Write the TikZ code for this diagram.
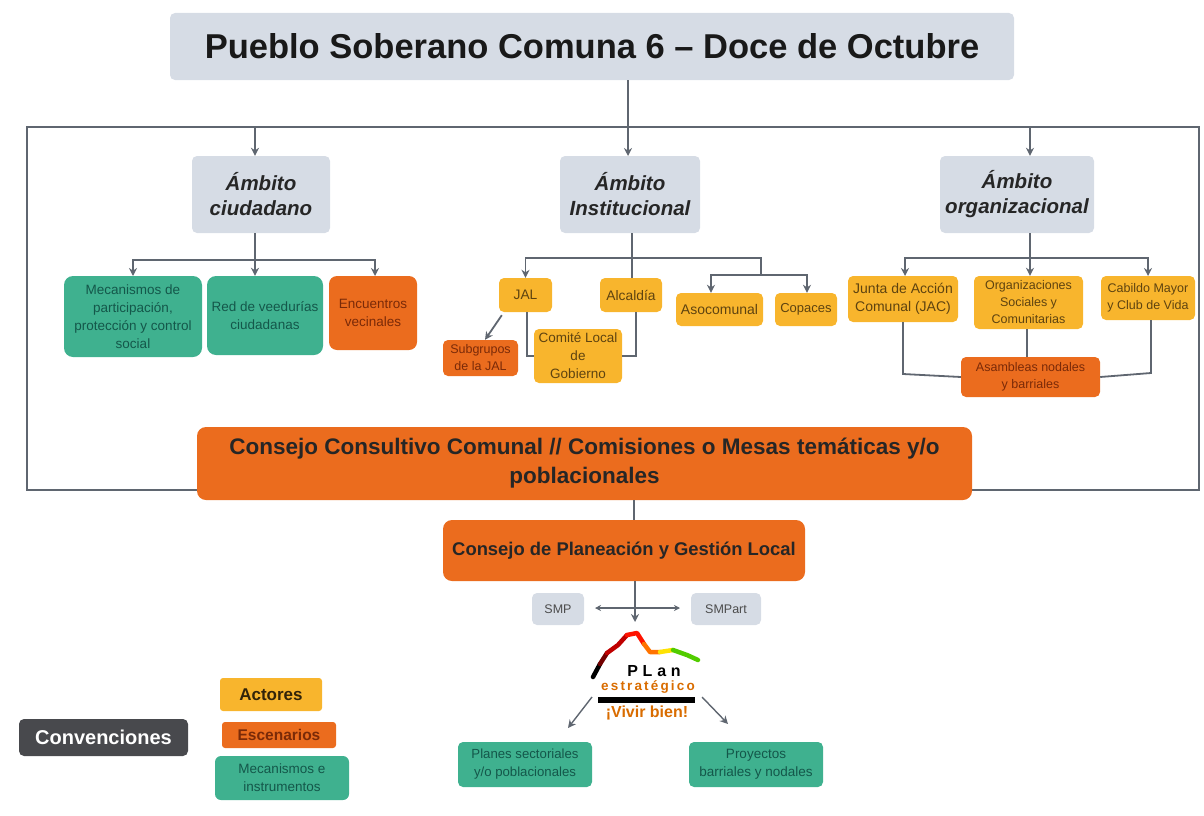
\documentclass[tikz,border=0pt]{standalone}
\usepackage{fontspec}
\setmainfont{Liberation Sans}
\usetikzlibrary{arrows.meta}
\definecolor{slate}{HTML}{D6DCE5}
\definecolor{grn}{HTML}{3FB18F}
\definecolor{org}{HTML}{EB6C1E}
\definecolor{yel}{HTML}{F8B52D}
\definecolor{dk}{HTML}{48494D}
\definecolor{ln}{HTML}{5F6670}
\definecolor{txg}{HTML}{14574A}
\definecolor{txo}{HTML}{7A2A08}
\definecolor{txy}{HTML}{5E4310}
\tikzset{
  base/.style={inner sep=0pt,align=center,rounded corners=5pt},
  ambito/.style={base,fill=slate,font=\fontsize{20.5}{25}\selectfont\bfseries\itshape,text=black!85},
  mech/.style={base,fill=grn,rounded corners=9pt,text=txg,font=\fontsize{13.5}{18}\selectfont},
  esc/.style={base,fill=org,rounded corners=8pt,text=txo,font=\fontsize{13.5}{18}\selectfont},
  act/.style={base,fill=yel,text=txy,font=\fontsize{13.8}{18}\selectfont},
  big/.style={base,fill=org,rounded corners=9pt,text=black!85,font=\fontsize{20}{29}\selectfont\bfseries},
  grey/.style={base,fill=slate,text=black!70,font=\fontsize{12.5}{15}\selectfont},
  conn/.style={draw=ln,line width=1.8pt},
  arr/.style={conn,-{Stealth[length=8pt,width=8pt]}},
  arrb/.style={conn,line width=1.2pt,{Stealth[length=6pt,width=6pt]}-{Stealth[length=6pt,width=6pt]}},
}
\newcommand{\bx}[7]{\node[#6,minimum width=#4pt-#2pt,minimum height=#5pt-#3pt] (#1) at ({(#2+#4)/2},{(#3+#5)/2}) {#7};}
\begin{document}
\begin{tikzpicture}[x=1pt,y=-1pt]
\useasboundingbox (0,0) rectangle (1204,816);
\node[draw=ln,line width=1.8pt,minimum width=1172pt,minimum height=363pt,inner sep=0pt] (frame) at (613,308.5) {};
% top
\bx{title}{170}{13}{1014}{80}{base,fill=slate,text=black!90,font=\fontsize{34.5}{40}\selectfont\bfseries}{Pueblo Soberano Comuna 6 – Doce de Octubre}
\bx{a1}{192}{156}{330}{233}{ambito}{Ámbito\\ciudadano}
\bx{a2}{560}{156}{700}{233}{ambito}{Ámbito\\Institucional}
\bx{a3}{940}{156}{1094}{233}{ambito}{Ámbito\\organizacional}
% left
\bx{m1}{64}{276}{202}{357}{mech}{Mecanismos de\\participación,\\protección y control\\social}
\bx{m2}{207}{276}{323}{355}{mech}{Red de veedurías\\ciudadanas}
\bx{e1}{329}{276}{417}{350}{esc}{Encuentros\\vecinales}
% centre
\bx{jal}{499}{278}{552}{312}{act}{JAL}
\bx{alc}{600}{278}{662}{312}{act}{Alcaldía}
\bx{sub}{443}{340}{518}{376}{esc,rounded corners=5pt,font=\fontsize{12.5}{17}\selectfont}{Subgrupos\\de la JAL}
\bx{com}{534}{329}{622}{383}{act,font=\fontsize{13.5}{18}\selectfont}{Comité Local\\de\\Gobierno}
\bx{aso}{676}{293}{763}{326}{act,font=\fontsize{14}{16}\selectfont}{Asocomunal}
\bx{cop}{775}{293}{837}{326}{act,font=\fontsize{13}{16}\selectfont}{Copaces}
% right
\bx{jac}{848}{276}{958}{322}{act,font=\fontsize{14}{18}\selectfont}{Junta de Acción\\Comunal (JAC)}
\bx{ors}{974}{276}{1083}{329}{act,font=\fontsize{12.5}{17}\selectfont}{Organizaciones\\Sociales y\\Comunitarias}
\bx{cab}{1101}{276}{1195}{320}{act,font=\fontsize{12.5}{17}\selectfont}{Cabildo Mayor\\y Club de Vida}
\bx{asa}{961}{357}{1100}{397}{esc,rounded corners=5pt,font=\fontsize{12.5}{17}\selectfont}{Asambleas nodales\\y barriales}
% consejos
\bx{cc}{197}{427}{972}{500}{big,font=\fontsize{22.5}{29}\selectfont\bfseries}{Consejo Consultivo Comunal // Comisiones o Mesas temáticas y/o\\poblacionales}
\bx{cp}{443}{520}{805}{581}{big,font=\fontsize{18.4}{22}\selectfont\bfseries}{Consejo de Planeación y Gestión Local}
\bx{smp}{532}{593}{584}{625}{grey}{SMP}
\bx{smpa}{691}{593}{761}{625}{grey}{SMPart}
% bottom
\bx{pl}{458}{742}{592}{787}{mech,rounded corners=5pt,font=\fontsize{13.2}{18}\selectfont}{Planes sectoriales\\y/o poblacionales}
\bx{pr}{689}{742}{823}{787}{mech,rounded corners=5pt}{Proyectos\\barriales y nodales}
% legend
\bx{conv}{19}{719}{188}{756}{base,fill=dk,text=white,font=\fontsize{20}{22}\selectfont\bfseries}{Convenciones}
\bx{lac}{220}{678}{322}{711}{act,rounded corners=3pt,text=black!80!yel,font=\fontsize{17}{19}\selectfont\bfseries}{Actores}
\bx{les}{222}{722}{336}{748}{esc,rounded corners=3pt,font=\fontsize{15.5}{18}\selectfont\bfseries}{Escenarios}
\bx{lme}{215}{756}{349}{800}{mech,rounded corners=6pt}{Mecanismos e\\instrumentos}
% logo
\begin{scope}[line width=4.5pt,line cap=round,line join=round]
\draw[black] (593,677) -- (600,664);
\draw[red!45!black] (600,664) -- (607,653);
\draw[red!75!black] (607,653) -- (618,645) -- (627,635);
\draw[red!85!orange] (627,635) -- (637,633) -- (644,644);
\draw[orange!90!red] (644,644) -- (650,652) -- (660,652);
\draw[yellow!85!orange] (660,652) -- (673,650);
\draw[green!60!yellow!80!black] (673,650) -- (687,655) -- (698,660);
\end{scope}
\node[inner sep=0pt,font=\fontsize{16}{16}\selectfont\bfseries\addfontfeature{LetterSpace=30}] (lp) at (654,671) {PLan};
\node[inner sep=0pt,text=orange!85!black,font=\fontsize{13.5}{14}\selectfont\bfseries\addfontfeature{LetterSpace=16}] (le) at (648,687) {estratégico};
\fill[black] (598,697) rectangle (695,703);
\node[inner sep=0pt,text=orange!85!black,font=\fontsize{16}{16}\selectfont\bfseries] (lv) at (647,713) {¡Vivir bien!};
% coordinates
\coordinate (t1) at (255,127);
\coordinate (t3) at (1030,127);
\coordinate (j1) at (255,260);
\coordinate (j2) at (632,258);
\coordinate (j3) at (1030,258);
\coordinate (j4) at (761,275);
\coordinate (sl) at (595,608);
\coordinate (sr) at (680,608);
\coordinate (la) at (592,697);
\coordinate (lb) at (702,697);
\coordinate (pa) at (568,728);
\coordinate (pb) at (728,724);
\coordinate (lt) at (635,622);
% connectors
\draw[arr] (t1) -- (t1 |- a1.north);
\draw[arr] (t3) -- (t3 |- a3.north);
\draw[arr] (title.south -| 628,0) -- (628,156);
% left tree
\draw[conn] (a1.south -| j1) -- (j1);
\draw[arr] (j1) -| (133,276);
\draw[arr] (j1) -- (j1 |- m2.north);
\draw[arr] (j1) -| (375,276);
% inst tree
\draw[conn] (a2.south -| j2) -- (j2 |- alc.north);
\draw[arr] (j2) -| (jal.north);
\draw[conn] (j2) -| (j4);
\draw[arr] (j4) -| (aso.north -| 711,0);
\draw[arr] (j4) -| (cop.north -| 807,0);
\draw[arr] (jal.south west) ++(3,3) -- (sub.north -| 485,0);
\draw[conn] (jal.south -| 527,0) |- (com.west);
\draw[conn] (alc.south -| 636,0) |- (com.east);
% org tree
\draw[conn] (a3.south -| j3) -- (j3);
\draw[arr] (j3) -| (905,276);
\draw[arr] (j3) -- (j3 |- ors.north);
\draw[arr] (j3) -| (1148,276);
\draw[conn] (jac.south -| 903,0) -- (903,374) -- (asa.west);
\draw[conn] (ors.south -| 1027,0) -- (asa.north -| 1027,0);
\draw[conn] (cab.south -| 1151,0) -- (1151,373) -- (asa.east);
% lower
\draw[conn] (cc.south -| 634,0) -- (cp.north -| 634,0);
\draw[arr] (cp.south -| lt) -- (lt);
\draw[arrb] (sl) -- (sr);
\draw[arr,line width=1.4pt] (la) -- (pa);
\draw[arr,line width=1.4pt] (lb) -- (pb);
\end{tikzpicture}
\end{document}
